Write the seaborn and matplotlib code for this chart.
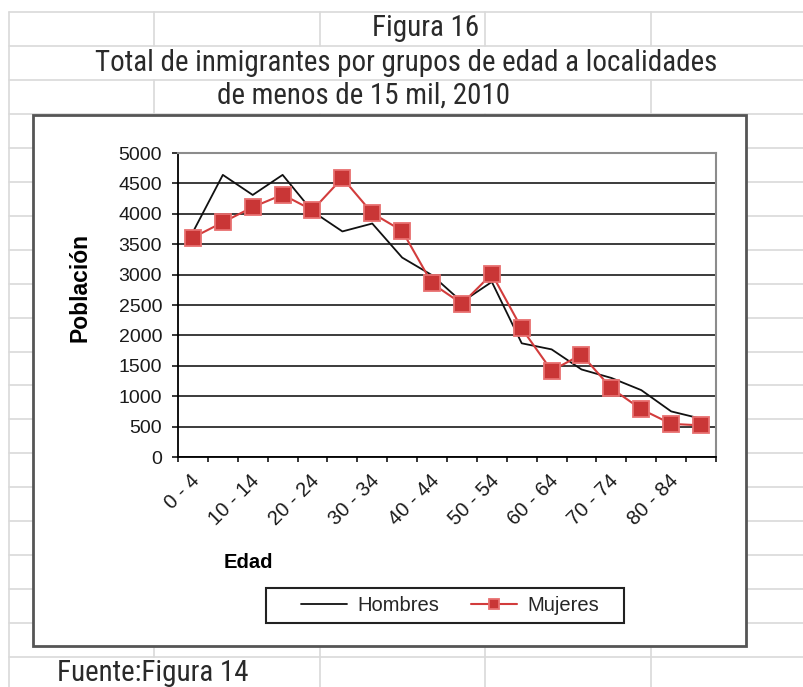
import matplotlib
matplotlib.use("Agg")
import matplotlib.pyplot as plt
import matplotlib.transforms as mtransforms
from matplotlib.lines import Line2D
from matplotlib.patches import Rectangle
from matplotlib import font_manager as fm
import seaborn as sns
import numpy as np

# ---------------- data ----------------
categories = ["0 - 4", "5 - 9", "10 - 14", "15 - 19", "20 - 24", "25 - 29",
              "30 - 34", "35 - 39", "40 - 44", "45 - 49", "50 - 54", "55 - 59",
              "60 - 64", "65 - 69", "70 - 74", "75 - 79", "80 - 84", "85 y más"]
hombres = [3700, 4640, 4310, 4640, 4040, 3710, 3840, 3280, 2990, 2550,
           2880, 1870, 1770, 1440, 1300, 1100, 750, 630]
mujeres = [3610, 3860, 4110, 4315, 4060, 4590, 4010, 3720, 2855, 2520,
           3010, 2115, 1420, 1685, 1130, 785, 545, 520]
tick_labels = categories[::2]
yticks = list(range(0, 5001, 500))
title_lines = ["Figura 16",
               "Total de inmigrantes por grupos de edad a localidades",
               "de menos de 15 mil, 2010"]
source_text = "Fuente:Figura 14"
series_names = ["Hombres", "Mujeres"]

# ---------------- style ----------------
sns.set_theme(style="white")
plt.rcParams['font.family'] = ['Liberation Sans', 'DejaVu Sans']

fonts = fm.fontManager.ttflist
names = {f.name for f in fonts}
title_props = dict(family=['Liberation Sans', 'DejaVu Sans'], fontsize=18.2)
if 'Liberation Sans Narrow' in names:
    title_props = dict(family=['Liberation Sans Narrow', 'DejaVu Sans'], fontsize=22)
elif 'Roboto Condensed' in names:
    title_props = dict(family=['Roboto Condensed', 'DejaVu Sans'], fontsize=20.9)
elif 'Arial Narrow' in names:
    title_props = dict(family=['Arial Narrow', 'DejaVu Sans'], fontsize=22)

W, H = 804, 687
fig = plt.figure(figsize=(W / 100, H / 100), dpi=100)
fig.patch.set_facecolor('white')


def fx(px):
    return px / W


def fy(py):
    return 1 - py / H


# ---------------- spreadsheet background ----------------
gcol = '#d9d9d9'
rows = [12 + 33.95 * n for n in range(21)]
for y in rows:
    fig.add_artist(Line2D([fx(9), 1], [fy(y), fy(y)], transform=fig.transFigure,
                          color=gcol, lw=1.2, zorder=-3))
fig.add_artist(Line2D([fx(9), fx(9)], [fy(12), 0], transform=fig.transFigure,
                      color=gcol, lw=1.2, zorder=-3))
vsegs = {154: [(12, 46), (80, 657)],
         320: [(12, 46), (113, 687)],
         485: [(12, 46), (113, 687)],
         651: [(12, 46), (80, 687)]}
for x, segs in vsegs.items():
    for (a, b) in segs:
        fig.add_artist(Line2D([fx(x), fx(x)], [fy(a), fy(b)], transform=fig.transFigure,
                              color=gcol, lw=1.2, zorder=-3))

# white masks behind overflowing cell text
fig.add_artist(Rectangle((fx(60), fy(79)), fx(700) - fx(60), fy(47) - fy(79),
                         transform=fig.transFigure, facecolor='white', edgecolor='none', zorder=-2.5))
fig.add_artist(Rectangle((fx(200), fy(112.5)), fx(530) - fx(200), fy(81) - fy(112.5),
                         transform=fig.transFigure, facecolor='white', edgecolor='none', zorder=-2.5))
fig.add_artist(Rectangle((fx(40), fy(687)), fx(260) - fx(40), fy(658) - fy(687),
                         transform=fig.transFigure, facecolor='white', edgecolor='none', zorder=-2.5))

# chart box
fig.add_artist(Rectangle((fx(33), fy(646)), fx(746) - fx(33), fy(115) - fy(646),
                         transform=fig.transFigure, facecolor='white',
                         edgecolor='#555555', lw=2, zorder=-1))

# titles
tcol = '#2a2a2a'
fig.text(fx(426), fy(36), title_lines[0], ha='center', va='baseline',
         color=tcol, **title_props)
fig.text(fx(406), fy(71), title_lines[1], ha='center', va='baseline',
         color=tcol, **title_props)
fig.text(fx(364), fy(104), title_lines[2], ha='center', va='baseline',
         color=tcol, **title_props)
fig.text(fx(57), fy(681), source_text, ha='left', va='baseline',
         color=tcol, **title_props)

# ---------------- plot ----------------
ax = fig.add_axes([fx(178), fy(457), (716 - 178) / W, (457 - 153) / H])
ax.set_facecolor('white')
xpos = np.arange(len(categories))

sns.lineplot(x=xpos, y=hombres, ax=ax, color='#111111', lw=1.3,
             label=series_names[0], zorder=3)
sns.lineplot(x=xpos, y=mujeres, ax=ax, color='#d23c3c', lw=1.5,
             marker='s', markersize=11.5, markerfacecolor='#c93636',
             markeredgecolor='#e87070', markeredgewidth=1.3,
             label=series_names[1], zorder=4)

ax.set_xlim(-0.5, len(categories) - 0.5)
ax.set_ylim(0, 5000)
ax.set_yticks(yticks)
ax.set_yticklabels([str(v) for v in yticks])
ax.set_xticks(xpos[::2])
ax.set_xticklabels(tick_labels)
ax.set_xticks(np.arange(-0.5, len(categories), 1), minor=True)

ax.yaxis.grid(True, color='#1a1a1a', lw=1.2)
ax.xaxis.grid(False)
ax.set_axisbelow(True)

ax.tick_params(axis='x', which='major', length=0, pad=15, labelsize=14.5,
               labelcolor='#1a1a1a', bottom=True)
ax.tick_params(axis='x', which='minor', length=3.8, width=1.1, direction='out',
               color='black', bottom=True)
ax.tick_params(axis='y', length=4.5, width=1.1, pad=7, labelsize=14,
               labelcolor='#1a1a1a', color='black', left=True, direction='out')

for s in ['left', 'bottom']:
    ax.spines[s].set_color('black')
    ax.spines[s].set_linewidth(1.3)
for s in ['top', 'right']:
    ax.spines[s].set_color('#8c8c8c')
    ax.spines[s].set_linewidth(1.5)

offset = mtransforms.ScaledTranslation(4 / 100, 0, fig.dpi_scale_trans)
for lbl in ax.get_xticklabels():
    lbl.set_rotation(45)
    lbl.set_ha('right')
    lbl.set_va('center')
    lbl.set_rotation_mode('anchor')
    lbl.set_transform(lbl.get_transform() + offset)

ax.set_xlabel('')
ax.set_ylabel('')
fig.text(fx(80), fy(288), 'Población', rotation=90, ha='center', va='center',
         fontsize=16.5, fontweight='bold', color='black')
fig.text(fx(248), fy(562), 'Edad', ha='center', va='center',
         fontsize=14.5, fontweight='bold', color='black')

# legend (frame drawn as a separate box)
handles, labels = ax.get_legend_handles_labels()
if ax.get_legend() is not None:
    ax.get_legend().remove()
fig.add_artist(Rectangle((fx(266), fy(623)), fx(624) - fx(266), fy(588) - fy(623),
                         transform=fig.transFigure, facecolor='white',
                         edgecolor='#222222', lw=1.5, zorder=4))
leg = fig.legend(handles, labels, loc='center', bbox_to_anchor=(fx(450), fy(605.5)),
                 ncol=2, frameon=False, fontsize=14.5, handlelength=2.3,
                 handletextpad=0.5, columnspacing=1.6, borderpad=0.2,
                 markerscale=0.65, borderaxespad=0)
leg.set_zorder(5)

fig.savefig('out.png', dpi=100, facecolor='white')
